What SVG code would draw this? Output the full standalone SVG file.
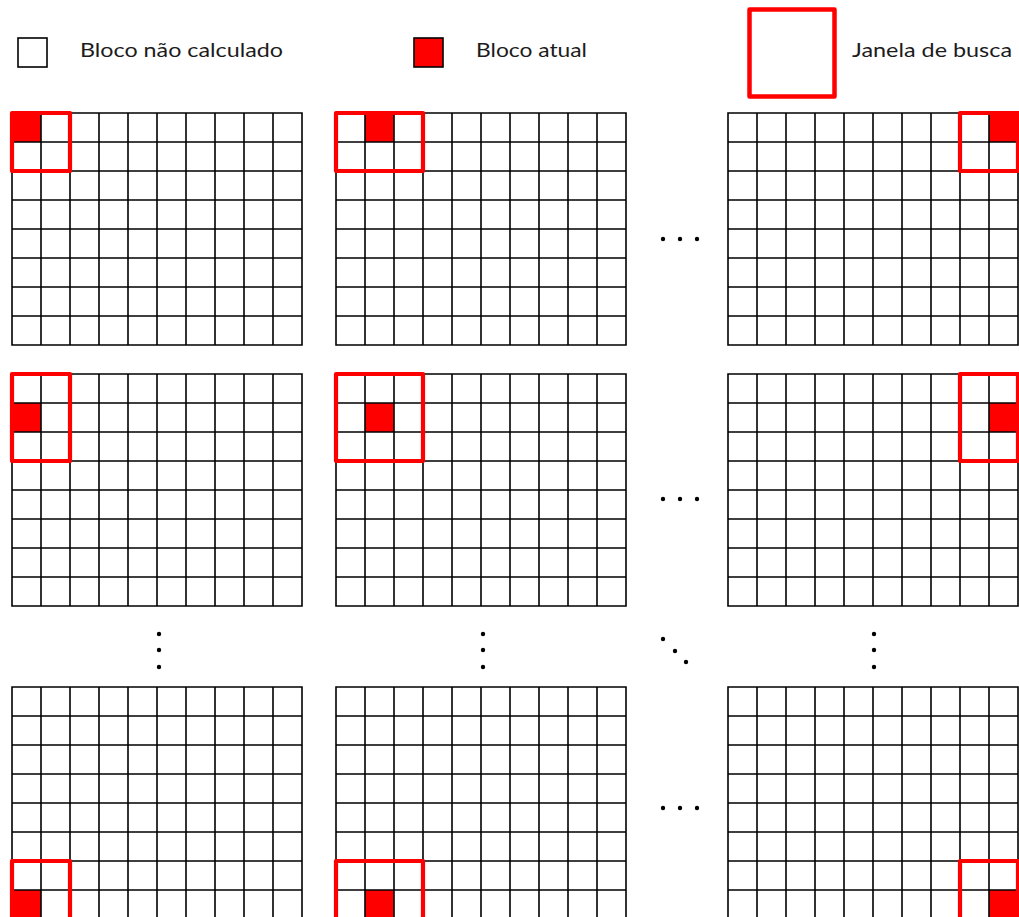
<svg xmlns="http://www.w3.org/2000/svg" xmlns:xlink="http://www.w3.org/1999/xlink" width="1019" height="917" viewBox="0 0 1019 917">
<style>
.grid{fill:none;stroke:#000;stroke-width:1.6}
.cur{fill:#ff0000}
.win{fill:none;stroke:#ff0000;stroke-width:4.2;stroke-linejoin:round}
.lbl{font-family:"Lato","Open Sans","DejaVu Sans",sans-serif;font-size:19px;fill:#1c1c1c}
.dot{fill:#000}
</style>
<defs>
<path id="g" class="grid" d="M0,0H290V232H0Z M29,0V232 M58,0V232 M87,0V232 M116,0V232 M145,0V232 M174,0V232 M203,0V232 M232,0V232 M261,0V232 M0,29H290 M0,58H290 M0,87H290 M0,116H290 M0,145H290 M0,174H290 M0,203H290"/>
</defs>
<rect width="1019" height="917" fill="#fff"/>
<g id="legend-uncalc">
<rect x="18" y="38" width="29" height="29" fill="#fff" stroke="#000" stroke-width="1.6"/>
<text class="lbl" x="80" y="57" textLength="203" lengthAdjust="spacingAndGlyphs">Bloco não calculado</text>
</g>
<g id="legend-current">
<rect x="414" y="38" width="29" height="29" fill="#ff0000" stroke="#000" stroke-width="1.6"/>
<text class="lbl" x="476" y="57" textLength="111" lengthAdjust="spacingAndGlyphs">Bloco atual</text>
</g>
<g id="legend-window">
<rect x="749.5" y="9.5" width="85" height="87" fill="none" stroke="#ff0000" stroke-width="4.5" stroke-linejoin="round"/>
<text class="lbl" x="852" y="57" textLength="160" lengthAdjust="spacingAndGlyphs">Janela de busca</text>
</g>
<g id="grid-r1c1">
<rect class="cur" x="12" y="113" width="29" height="29"/>
<use xlink:href="#g" x="12" y="113"/>
<rect class="win" x="12" y="113" width="58" height="58"/>
</g>
<g id="grid-r1c2">
<rect class="cur" x="365" y="113" width="29" height="29"/>
<use xlink:href="#g" x="336" y="113"/>
<rect class="win" x="336" y="113" width="87" height="58"/>
</g>
<g id="grid-r1c3">
<rect class="cur" x="989" y="113" width="29" height="29"/>
<use xlink:href="#g" x="728" y="113"/>
<rect class="win" x="960" y="113" width="58" height="58"/>
</g>
<g id="grid-r2c1">
<rect class="cur" x="12" y="403" width="29" height="29"/>
<use xlink:href="#g" x="12" y="374"/>
<rect class="win" x="12" y="374" width="58" height="87"/>
</g>
<g id="grid-r2c2">
<rect class="cur" x="365" y="403" width="29" height="29"/>
<use xlink:href="#g" x="336" y="374"/>
<rect class="win" x="336" y="374" width="87" height="87"/>
</g>
<g id="grid-r2c3">
<rect class="cur" x="989" y="403" width="29" height="29"/>
<use xlink:href="#g" x="728" y="374"/>
<rect class="win" x="960" y="374" width="58" height="87"/>
</g>
<g id="grid-r3c1">
<rect class="cur" x="12" y="890" width="29" height="29"/>
<use xlink:href="#g" x="12" y="687"/>
<rect class="win" x="12" y="861" width="58" height="58"/>
</g>
<g id="grid-r3c2">
<rect class="cur" x="365" y="890" width="29" height="29"/>
<use xlink:href="#g" x="336" y="687"/>
<rect class="win" x="336" y="861" width="87" height="58"/>
</g>
<g id="grid-r3c3">
<rect class="cur" x="989" y="890" width="29" height="29"/>
<use xlink:href="#g" x="728" y="687"/>
<rect class="win" x="960" y="861" width="58" height="58"/>
</g>
<g id="ellipses">
<circle class="dot" cx="663" cy="239" r="2.2"/><circle class="dot" cx="680" cy="239" r="2.2"/><circle class="dot" cx="697" cy="239" r="2.2"/>
<circle class="dot" cx="663" cy="499" r="2.2"/><circle class="dot" cx="680" cy="499" r="2.2"/><circle class="dot" cx="697" cy="499" r="2.2"/>
<circle class="dot" cx="663" cy="808" r="2.2"/><circle class="dot" cx="680" cy="808" r="2.2"/><circle class="dot" cx="697" cy="808" r="2.2"/>
<circle class="dot" cx="159" cy="634" r="2.2"/><circle class="dot" cx="159" cy="650" r="2.2"/><circle class="dot" cx="159" cy="667" r="2.2"/>
<circle class="dot" cx="483" cy="634" r="2.2"/><circle class="dot" cx="483" cy="650" r="2.2"/><circle class="dot" cx="483" cy="667" r="2.2"/>
<circle class="dot" cx="874" cy="634" r="2.2"/><circle class="dot" cx="874" cy="650" r="2.2"/><circle class="dot" cx="874" cy="667" r="2.2"/>
<circle class="dot" cx="663" cy="639" r="2.2"/><circle class="dot" cx="675" cy="651" r="2.2"/><circle class="dot" cx="686" cy="662" r="2.2"/>
</g>
</svg>
